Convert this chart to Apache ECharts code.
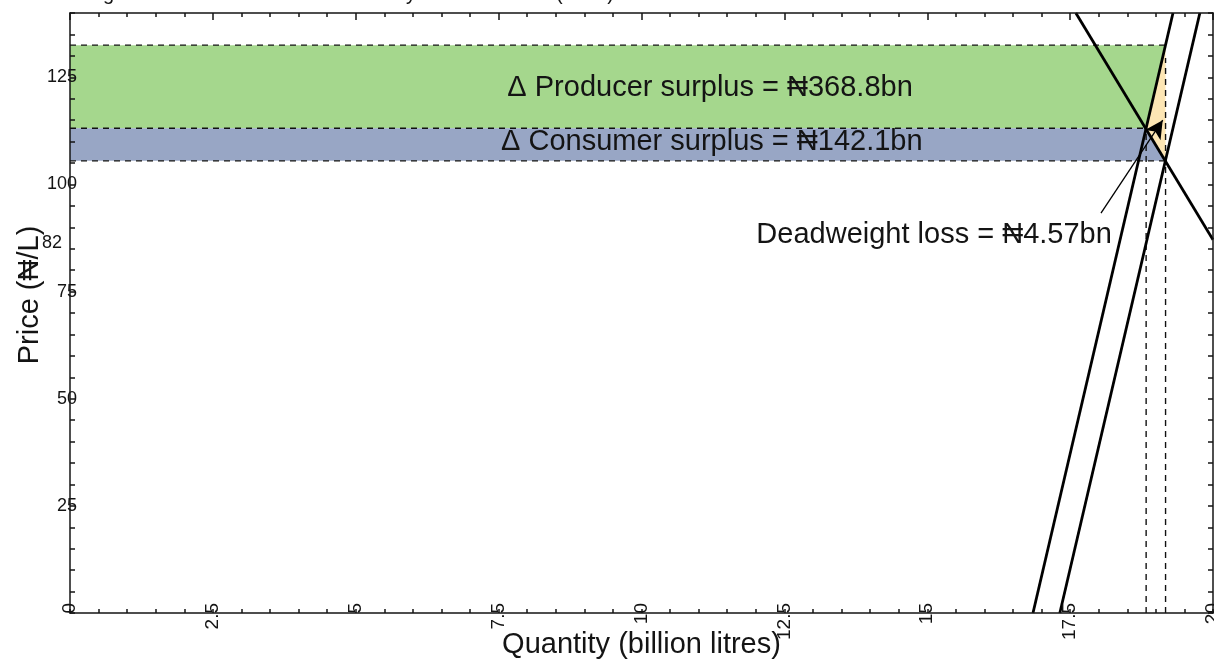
<!DOCTYPE html>
<html><head><meta charset="utf-8">
<script src="https://cdn.jsdelivr.net/npm/echarts/dist/echarts.min.js"></script>
<style>html,body{margin:0;padding:0;background:#fff}#c{width:1214px;height:660px}</style>
</head><body><div id="c"></div>
<script>
// ---- data ----
const titleText = 'Nigeria: welfare effects of the subsidy removal shock (2023)';
const xName = 'Quantity (billion litres)';
const yName = 'Price (\u20A6/L)';
const xRange = [0, 20]; const xStep = 2.5;
const yRange = [0, 140]; const yStep = 25;
const extraYLabel = '82';
const extraYLabelAt = [0, 86.4];

const supplyOld = [[17.32, 0], [19.77, 140]];
const supplyNew = [[16.85, 0], [19.30, 140]];
const demand = [[17.60, 140], [20.0, 87.1]];

const qNew = 18.83, pNew = 113.1;   // new equilibrium
const qOld = 19.17, pOld = 105.5;   // old equilibrium
const pSupplyAtOld = 132.5;         // new supply price at old quantity

const producerRegion = [[0, pNew], [qNew, pNew], [qOld, pSupplyAtOld], [0, pSupplyAtOld]];
const consumerRegion = [[0, pOld], [qOld, pOld], [qNew, pNew], [0, pNew]];
const dwlRegion = [[qNew, pNew], [qOld, pSupplyAtOld], [qOld, pOld]];

const dashedLines = [
  [[0, pSupplyAtOld], [qOld, pSupplyAtOld]],
  [[0, pNew], [qNew, pNew]],
  [[0, pOld], [qOld, pOld]],
  [[qNew, 0], [qNew, pNew]],
  [[qOld, 0], [qOld, 129.5]]
];

const producerText = '\u0394 Producer surplus = \u20A6368.8bn';
const consumerText = '\u0394 Consumer surplus = \u20A6142.1bn';
const dwlText = 'Deadweight loss = \u20A64.57bn';
const producerTextAt = [11.2, 122.5];
const consumerTextAt = [11.23, 109.9];
const dwlTextAt = [18.23, 88.2];
const arrowFrom = [18.04, 93.3];
const arrowTo = [19.12, 115.0];

// ---- chart ----
const FONT = '"Liberation Sans", Arial, Helvetica, sans-serif';
const INK = '#141414';
const regions = [producerRegion, consumerRegion, dwlRegion];
const fills = ['#a5d78d', '#98a6c5', '#fde6b4'];

const chart = echarts.init(document.getElementById('c'), null, {renderer: 'canvas'});

function xAxisCfg(pos, labels) {
  return {
    type: 'value', position: pos, min: xRange[0], max: xRange[1], interval: xStep, z: 10,
    axisLine: {show: true, onZero: false, lineStyle: {color: INK, width: 1.5}},
    axisTick: {show: true, inside: true, length: pos === 'top' ? 7 : 4, lineStyle: {color: INK, width: 1.5}},
    minorTick: {show: true, splitNumber: 5, length: 4, lineStyle: {color: INK, width: 1.5}},
    splitLine: {show: false}, minorSplitLine: {show: false},
    axisLabel: labels ? {show: true, rotate: 90, margin: -10, fontSize: 19, color: INK, fontFamily: FONT,
      hideOverlap: false, showMinLabel: true, showMaxLabel: true, formatter: v => String(v)} : {show: false},
    name: labels ? xName : '', nameLocation: 'middle', nameGap: 17, nameMoveOverlap: false,
    nameTextStyle: {fontSize: 29, color: INK, fontFamily: FONT}
  };
}
function yAxisCfg(pos, labels) {
  return {
    type: 'value', position: pos, min: yRange[0], max: yRange[1], interval: yStep, z: 10,
    axisLine: {show: true, onZero: false, lineStyle: {color: INK, width: 1.5}},
    axisTick: {show: true, inside: true, length: 5, lineStyle: {color: INK, width: 1.5}},
    minorTick: {show: true, splitNumber: 5, length: 5, lineStyle: {color: INK, width: 1.5}},
    splitLine: {show: false}, minorSplitLine: {show: false},
    axisLabel: labels ? {show: true, margin: -7, fontSize: 18, color: INK, fontFamily: FONT,
      hideOverlap: false, overflow: 'none', width: 80, align: 'right',
      formatter: v => (v === 0 || v % yStep !== 0) ? '' : String(v)} : {show: false},
    name: labels ? yName : '', nameLocation: 'middle', nameGap: 26, nameMoveOverlap: false,
    nameTextStyle: {fontSize: 29, color: INK, fontFamily: FONT, padding: [0, 0, 0, 36]}
  };
}

const series = [];
series.push({
  type: 'custom', xAxisIndex: 0, yAxisIndex: 0, silent: true, z: 1,
  data: regions.map((r, i) => [i, 0]),
  renderItem: (params, api) => ({
    type: 'polygon',
    shape: {points: regions[params.dataIndex].map(p => api.coord(p))},
    style: {fill: fills[params.dataIndex], stroke: null}
  })
});
dashedLines.forEach(seg => series.push({
  type: 'line', data: seg, symbol: 'none', silent: true, z: 3, animation: false,
  lineStyle: {color: '#111', width: 1.4, type: [6, 5]}
}));
[supplyOld, supplyNew, demand].forEach(seg => series.push({
  type: 'line', data: seg, symbol: 'none', silent: true, z: 4, clip: true, animation: false,
  lineStyle: {color: '#000', width: 2.8}
}));
series.push({
  type: 'line', data: [], symbol: 'none', silent: true, z: 5,
  markLine: {
    silent: true, animation: false, symbol: ['none', 'arrow'], symbolSize: [14, 18],
    lineStyle: {color: '#000', width: 1.3, type: 'solid', opacity: 1}, label: {show: false},
    data: [[{coord: arrowFrom}, {coord: arrowTo}]]
  }
});
const lbl = (extra) => Object.assign({show: true, color: INK, fontFamily: FONT, opacity: 1}, extra);
series.push({
  type: 'scatter', symbolSize: 0, silent: true, z: 6, animation: false,
  itemStyle: {opacity: 1},
  data: [
    {value: producerTextAt, label: lbl({position: 'inside', formatter: producerText, fontSize: 29})},
    {value: consumerTextAt, label: lbl({position: 'inside', formatter: consumerText, fontSize: 29})},
    {value: dwlTextAt, label: lbl({position: 'left', distance: 0, formatter: dwlText, fontSize: 29})},
    {value: extraYLabelAt, label: lbl({position: 'left', distance: 8, formatter: extraYLabel, fontSize: 18})}
  ]
});

chart.setOption({
  animation: false,
  backgroundColor: '#fff',
  title: {text: titleText, left: 79, top: -21, textStyle: {fontSize: 20, fontWeight: 'normal', color: INK, fontFamily: FONT}},
  grid: {left: 70, right: 1, top: 13, bottom: 47, containLabel: false, outerBoundsMode: 'none'},
  xAxis: [xAxisCfg('bottom', true), xAxisCfg('top', false)],
  yAxis: [yAxisCfg('left', true), yAxisCfg('right', false)],
  series: series
});
</script></body></html>
